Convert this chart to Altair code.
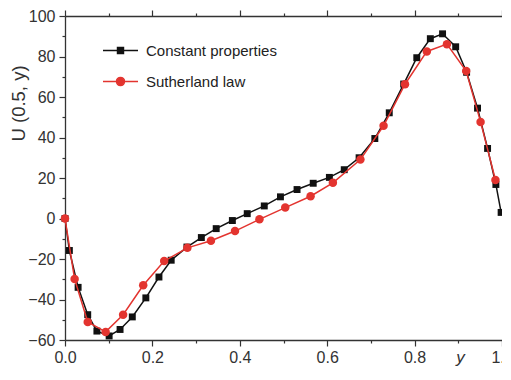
import altair as alt
import pandas as pd

# ---- data ----
series_names = ["Constant properties", "Sutherland law"]
series_colors = ["#111111", "#e3342f"]

const_x = [0.0, 0.010, 0.030, 0.052, 0.073, 0.101, 0.126, 0.154, 0.185, 0.215,
           0.243, 0.279, 0.312, 0.346, 0.383, 0.417, 0.456, 0.493, 0.531, 0.568,
           0.605, 0.639, 0.673, 0.709, 0.742, 0.775, 0.805, 0.836, 0.864, 0.894,
           0.919, 0.944, 0.967, 0.986, 0.998]
const_u = [0.0, -15.8, -34.0, -47.5, -55.6, -58.0, -54.8, -48.6, -39.2, -28.9,
           -20.6, -14.1, -9.4, -5.0, -1.0, 2.4, 6.2, 10.7, 14.3, 17.4,
           20.3, 24.1, 30.0, 39.5, 52.2, 66.4, 79.4, 88.8, 91.2, 84.8,
           72.2, 54.5, 34.6, 16.8, 3.0]

suth_x = [0.0, 0.022, 0.052, 0.093, 0.133, 0.179, 0.227, 0.280, 0.334, 0.389,
          0.445, 0.504, 0.562, 0.613, 0.676, 0.729, 0.778, 0.828, 0.874, 0.918,
          0.951, 0.985]
suth_u = [0.0, -29.9, -51.1, -56.0, -47.5, -33.0, -21.0, -14.5, -11.0, -6.2,
          -0.4, 5.4, 11.0, 17.6, 29.1, 45.8, 66.3, 82.5, 86.1, 72.8,
          47.7, 19.0]

x_ticks = [0.0, 0.1, 0.2, 0.3, 0.4, 0.5, 0.6, 0.7, 0.8, 0.9, 1.0]
y_ticks = [-60, -50, -40, -30, -20, -10, 0, 10, 20, 30, 40, 50, 60, 70, 80, 90, 100]

x_title = "y"
y_title = "U (0.5, y)"

FONT = "Liberation Sans"
AX = "#333333"

df_c = pd.DataFrame({"x": const_x, "u": const_u, "series": series_names[0]})
df_s = pd.DataFrame({"x": suth_x, "u": suth_u, "series": series_names[1]})
df_leg = pd.DataFrame({"series": series_names})

x_major = "round(datum.value*10) % 2 === 0"
y_major = "round(datum.value/10) % 2 === 0"

common = dict(
    domainColor=AX, domainWidth=1.3, tickColor=AX, tickWidth=1.2, grid=False,
    labelFont=FONT, labelFontSize=16, labelColor=AX, labelOverlap=False,
    labelFlush=False,
)

bottom_axis = alt.Axis(
    orient="bottom", values=x_ticks, format=".1f",
    labelExpr=f"{x_major} ? datum.label : ''",
    tickSize={"condition": {"test": x_major, "value": 6}, "value": 3},
    labelPadding=3,
    title=x_title, titleFont=FONT, titleFontStyle="italic", titleFontWeight="normal",
    titleFontSize=17, titleColor=AX, titleX=395, titleY=22,
    titleBaseline="alphabetic", titleAlign="center",
    **common,
)
top_axis = alt.Axis(
    orient="top", values=x_ticks, labels=False,
    tickSize={"condition": {"test": x_major, "value": 6}, "value": 3},
    title=None, **common,
)
left_axis = alt.Axis(
    orient="left", values=y_ticks, format="d",
    labelExpr=f"{y_major} ? datum.label : ''",
    tickSize={"condition": {"test": y_major, "value": 6}, "value": 3},
    labelPadding=4,
    title=y_title, titleFont=FONT, titleFontWeight="normal", titleFontSize=18.5,
    titleColor=AX, titleAngle=270, titleX=-47, titleY=87,
    titleAlign="center", titleBaseline="middle",
    **common,
)

xscale = alt.Scale(domain=[0, 1], nice=False, zero=False)
yscale = alt.Scale(domain=[-60, 100], nice=False, zero=False)

xb = alt.X("x:Q", scale=xscale, axis=bottom_axis)
xt = alt.X("x:Q", scale=xscale, axis=top_axis)
xn = alt.X("x:Q", scale=xscale, axis=None)
yy = alt.Y("u:Q", scale=yscale, axis=left_axis)

black_line = alt.Chart(df_c).mark_line(color=series_colors[0], strokeWidth=1.5).encode(x=xb, y=yy)
black_pts = alt.Chart(df_c).mark_square(color=series_colors[0], size=48, opacity=1).encode(x=xn, y=yy)
red_line = alt.Chart(df_s).mark_line(color=series_colors[1], strokeWidth=1.5).encode(x=xt, y=yy)
red_pts = alt.Chart(df_s).mark_circle(color=series_colors[1], size=72, opacity=1).encode(x=xn, y=yy)

square_path = "M-1,0H1M-0.17,-0.17H0.17V0.17H-0.17Z"
circle_path = "M-1,0H1M0.23,0A0.23,0.23,0,1,1,-0.23,0A0.23,0.23,0,1,1,0.23,0Z"

leg = alt.Legend(
    orient="none", legendX=37, legendY=16, title=None,
    symbolSize=1225, symbolStrokeWidth=1.5, symbolOpacity=1,
    labelFont=FONT, labelFontSize=15, labelColor="#222222", labelOffset=7,
    rowPadding=4, padding=0,
)
legend_layer = alt.Chart(df_leg).mark_point(filled=True, opacity=0).encode(
    fill=alt.Fill("series:N", scale=alt.Scale(domain=series_names, range=series_colors), legend=leg),
    stroke=alt.Stroke("series:N", scale=alt.Scale(domain=series_names, range=series_colors), legend=leg),
    shape=alt.Shape("series:N", scale=alt.Scale(domain=series_names, range=[square_path, circle_path]), legend=leg),
)

chart = alt.layer(black_line, black_pts, red_line, red_pts, legend_layer).resolve_axis(
    x="independent"
).properties(
    width=437, height=324,
    padding={"left": 57, "top": 8, "right": 0, "bottom": 26},
    autosize=alt.AutoSizeParams(type="none"),
).configure_view(stroke=None)

chart.save("out.html", embed_options={"renderer": "svg", "actions": False})
